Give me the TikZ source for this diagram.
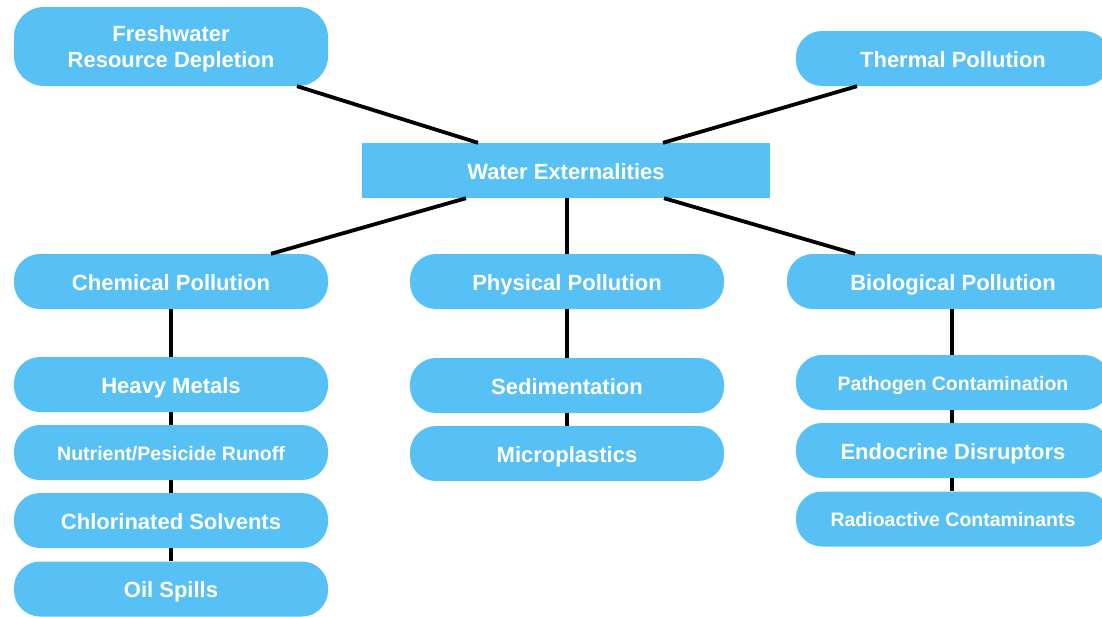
\documentclass[tikz,border=0pt]{standalone}
\usepackage{fontspec}
\setmainfont{Liberation Sans}
\definecolor{boxblue}{RGB}{87,192,244}
\tikzset{
  pill/.style={fill=boxblue, draw=none, rounded corners=26pt, minimum width=314pt, minimum height=55pt, inner sep=0pt, text=white, font=\fontsize{22}{26}\selectfont\bfseries, align=center},
  oneline/.style={text height=21pt, text depth=4pt},
  smalltext/.style={font=\fontsize{19.5}{24}\selectfont\bfseries, text height=20pt, text depth=5pt},
  centerbox/.style={fill=boxblue, draw=none, minimum width=408pt, minimum height=55pt, inner sep=0pt, text=white, font=\fontsize{22}{26}\selectfont\bfseries, text height=21pt, text depth=4pt},
  link/.style={line width=3.8pt, black}
}
\begin{document}
\begin{tikzpicture}[x=1pt,y=-1pt]
\useasboundingbox (0,0) rectangle (1102,616);
% top
\node[pill, minimum height=79pt, rounded corners=30pt] (fw) at (171,46.5) {\raisebox{-3pt}[\height][\depth]{\begin{tabular}{@{}c@{}}Freshwater\\Resource Depletion\end{tabular}}};
\node[pill, oneline] (th) at (953,58.5) {Thermal Pollution};
\node[centerbox] (we) at (566,170.5) {Water Externalities};
% second row
\node[pill, oneline] (chem) at (171,281.5) {Chemical Pollution};
\node[pill, oneline] (phys) at (567,281.5) {Physical Pollution};
\node[pill, oneline, minimum width=332pt] (bio) at (953,281.5) {Biological Pollution};
% chemical column
\node[pill, oneline] (hm) at (171,384.5) {Heavy Metals};
\node[pill, smalltext] (nut) at (171,452.5) {Nutrient/Pesicide Runoff};
\node[pill, oneline] (chl) at (171,520.5) {Chlorinated Solvents};
\node[pill, oneline] (oil) at (171,589) {Oil Spills};
% physical column
\node[pill, oneline] (sed) at (567,385.5) {Sedimentation};
\node[pill, oneline] (mic) at (567,453.5) {Microplastics};
% biological column
\node[pill, smalltext] (pat) at (953,382.5) {Pathogen Contamination};
\node[pill, oneline] (end) at (953,450.5) {Endocrine Disruptors};
\node[pill, smalltext] (rad) at (953,519) {Radioactive Contaminants};
% connectors
\draw[link] ([xshift=126pt]fw.south) -- ([xshift=-88pt]we.north);
\draw[link] ([xshift=-96pt]th.south) -- ([xshift=97pt]we.north);
\draw[link] ([xshift=-100pt]we.south) -- ([xshift=100pt]chem.north);
\draw[link] ([xshift=1pt]we.south) -- (phys.north);
\draw[link] ([xshift=98pt]we.south) -- ([xshift=-98pt]bio.north);
\draw[link] (chem.south) -- (hm.north);
\draw[link] (hm.south) -- (nut.north);
\draw[link] (nut.south) -- (chl.north);
\draw[link] (chl.south) -- (oil.north);
\draw[link] (phys.south) -- (sed.north);
\draw[link] (sed.south) -- (mic.north);
\draw[link] ([xshift=-1pt]bio.south) -- ([xshift=-1pt]pat.north);
\draw[link] ([xshift=-1pt]pat.south) -- ([xshift=-1pt]end.north);
\draw[link] ([xshift=-1pt]end.south) -- ([xshift=-1pt]rad.north);
\end{tikzpicture}
\end{document}
